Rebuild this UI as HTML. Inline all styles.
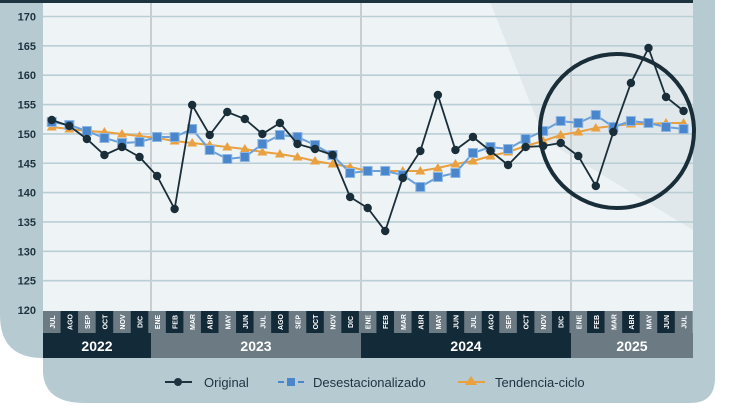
<!DOCTYPE html>
<html><head><meta charset="utf-8"><style>
html,body{margin:0;padding:0;background:#fff;}
svg{display:block;font-family:"Liberation Sans",sans-serif;}
</style></head><body>
<svg id="s" width="730" height="411" viewBox="0 0 730 411" xmlns="http://www.w3.org/2000/svg">
<path d="M0,0 H715 V378 Q715,403 690,403 H85 Q43,403 43,370 V358 Q0,358 0,315 Z" fill="#b5cad1"/>
<rect x="43" y="2" width="650" height="309" fill="#eef3f5"/>
<polygon points="490,2 693,2 693,230 545,140" fill="#e0e8eb"/>
<rect x="0" y="0" width="693" height="3" fill="#1d3340"/>
<g id="grid"></g>
<g id="months"></g>
<g id="series"></g>
<circle cx="617" cy="131" r="77" fill="none" stroke="#1a2e3a" stroke-width="4"/>
<g font-size="13" fill="#1d3340">
<line x1="165" y1="382" x2="192" y2="382" stroke="#1d3340" stroke-width="2"/><circle cx="178" cy="382" r="4" fill="#1d3340"/>
<text x="204" y="387">Original</text>
<line x1="278" y1="382" x2="305" y2="382" stroke="#4a86cc" stroke-width="2" stroke-dasharray="6,4"/><rect x="287" y="378" width="8" height="8" fill="#4a86cc"/>
<text x="313" y="387">Desestacionalizado</text>
<line x1="458" y1="382" x2="485" y2="382" stroke="#e8a040" stroke-width="2"/><polygon points="471,376 477,385 465,385" fill="#e8a040"/>
<text x="495" y="387">Tendencia-ciclo</text>
</g>
</svg>
<script>
var NS="http://www.w3.org/2000/svg",s=document.getElementById('s');
function el(p,t,a,txt){var e=document.createElementNS(NS,t);for(var k in a)e.setAttribute(k,a[k]);if(txt)e.textContent=txt;p.appendChild(e);return e;}
var g=document.getElementById('grid');
function Y(v){return 16.5+(170-v)*5.87;}
for(var v=120;v<=170;v+=5){var y=Y(v);if(v>120)el(g,'line',{x1:43,x2:693,y1:y,y2:y,stroke:'#b9ced5','stroke-width':1.6});
el(g,'text',{x:36,y:y+4,'text-anchor':'end','font-size':11,'font-weight':'bold',fill:'#1d3340'},String(v));}
[151,361,571].forEach(function(x){el(g,'line',{x1:x,x2:x,y1:3,y2:311,stroke:'#c9cdcf','stroke-width':2});});
var W=17.55;function X(i){return 43+W*(i+0.5);}
var mn=['JUL','AGO','SEP','OCT','NOV','DIC','ENE','FEB','MAR','ABR','MAY','JUN'];
var m=document.getElementById('months');
for(var i=0;i<37;i++){var x0=43+W*i;el(m,'rect',{x:x0,y:311,width:W+0.3,height:22,fill:i%2?'#132a38':'#6b7a83'});
el(m,'text',{transform:'translate('+(X(i)+3)+',322) rotate(-90)','text-anchor':'middle','font-size':7,fill:'#fff','font-weight':'bold'},mn[i%12]);}
[[43,151,'2022','#132a38'],[151,361,'2023','#6b7a83'],[361,571,'2024','#132a38'],[571,693,'2025','#6b7a83']].forEach(function(b){
el(m,'rect',{x:b[0],y:333,width:b[1]-b[0],height:25,fill:b[3]});
el(m,'text',{x:(b[0]+b[1])/2,y:351,'text-anchor':'middle','font-size':14,'font-weight':'bold',fill:'#fff'},b[2]);});
var org=[120,126,139,155,147,157,176,209,105,135,112,119,134,123,144,149,155,197,208,231,178,151,95,150,137,151,165,147,146,143,156,186,132,83,48,97,111];
var des=[122,125,131,138,143,142,137,137,129,150,159,157,144,135,137,145,155,173,171,171,175,187,177,173,153,147,149,139,131,121,123,115,127,121,123,127,129];
var ten=[127,129,131,132,134,136,138,141,143,145,147,149,152,154,157,161,164,167,171,171,171,171,168,164,161,156,152,146,141,135,132,128,126,124,124,123,123];
var S=document.getElementById('series');
function pts(a){return a.map(function(y,i){return X(i)+','+y;}).join(' ');}
el(S,'polyline',{points:pts(ten),fill:'none',stroke:'#e8a040','stroke-width':2});
ten.forEach(function(y,i){var x=X(i);el(S,'polygon',{points:(x)+','+(y-5)+' '+(x+5)+','+(y+3.5)+' '+(x-5)+','+(y+3.5),fill:'#e8a040'});});
el(S,'polyline',{points:pts(des),fill:'none',stroke:'#6a9fd8','stroke-width':2});
des.forEach(function(y,i){el(S,'rect',{x:X(i)-4.5,y:y-4.5,width:9,height:9,fill:'#4a86cc',stroke:'#8db6e3','stroke-width':1});});
el(S,'polyline',{points:pts(org),fill:'none',stroke:'#1a2e3a','stroke-width':1.8});
org.forEach(function(y,i){el(S,'circle',{cx:X(i),cy:y,r:4.2,fill:'#1a2e3a'});});
</script>
</body></html>
